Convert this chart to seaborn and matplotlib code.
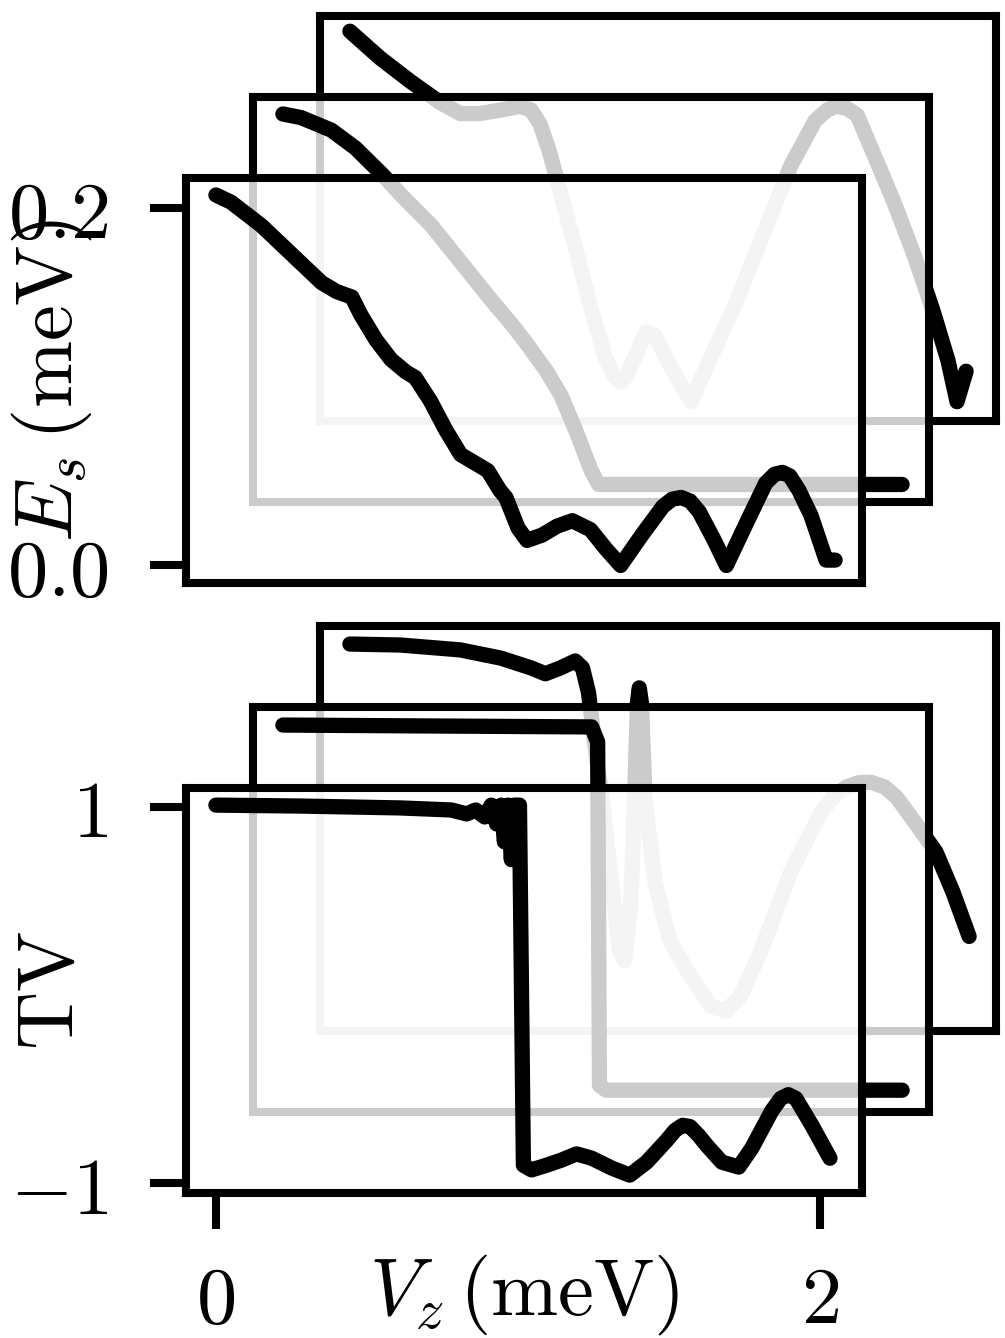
"""
Stacked offset panels: E_s and TV versus V_z for three overlapping cases.
"""

import numpy as np
import pandas as pd
import seaborn as sns
import matplotlib.pyplot as plt


# ---------------------------------------------------------------------
# Data (front / middle / back panels)
# ---------------------------------------------------------------------
ES_FRONT_X = [0.00, 0.05, 0.15, 0.25, 0.35, 0.40, 0.45, 0.48, 0.53, 0.58,
              0.63, 0.66, 0.71, 0.76, 0.81, 0.85, 0.90, 0.94, 0.96, 1.00,
              1.03, 1.08, 1.13, 1.18, 1.24, 1.29, 1.34, 1.41, 1.48, 1.51,
              1.54, 1.57, 1.60, 1.65, 1.69, 1.76, 1.82, 1.85, 1.875, 1.90,
              1.93, 1.97, 2.02, 2.05]
ES_FRONT_Y = [0.207, 0.203, 0.190, 0.174, 0.158, 0.153, 0.150, 0.140, 0.126, 0.115,
              0.108, 0.105, 0.092, 0.076, 0.062, 0.058, 0.053, 0.042, 0.038, 0.021,
              0.014, 0.017, 0.022, 0.025, 0.020, 0.0095, 0.000, 0.017, 0.033, 0.037,
              0.038, 0.036, 0.030, 0.014, 0.000, 0.025, 0.046, 0.051, 0.052, 0.050,
              0.042, 0.028, 0.003, 0.003]

ES_MID_X = [0.00, 0.06, 0.16, 0.24, 0.33, 0.39, 0.49, 0.59, 0.69, 0.76,
            0.81, 0.87, 0.92, 0.97, 1.02, 1.045, 1.50, 2.05]
ES_MID_Y = [0.207, 0.205, 0.198, 0.188, 0.173, 0.162, 0.145, 0.124, 0.103, 0.089,
            0.078, 0.064, 0.050, 0.030, 0.008, 0.000, 0.000, 0.000]

ES_BACK_X = [0.00, 0.10, 0.20, 0.30, 0.365, 0.43, 0.50, 0.564, 0.60, 0.63,
             0.66, 0.70, 0.75, 0.80, 0.845, 0.875, 0.895, 0.915, 0.93, 0.98,
             1.01, 1.06, 1.13, 1.19, 1.28, 1.36, 1.46, 1.54, 1.58, 1.61,
             1.645, 1.68, 1.73, 1.80, 1.87, 1.93, 1.98, 2.01, 2.04]
ES_BACK_Y = [0.208, 0.193, 0.180, 0.168, 0.162, 0.162, 0.164, 0.166, 0.164, 0.156,
             0.141, 0.116, 0.085, 0.052, 0.026, 0.015, 0.012, 0.015, 0.021, 0.040,
             0.038, 0.021, 0.001, 0.024, 0.057, 0.091, 0.133, 0.158, 0.164, 0.166,
             0.165, 0.161, 0.141, 0.113, 0.082, 0.052, 0.024, 0.001, 0.018]

TV_FRONT_X = [0.00, 0.28, 0.61, 0.78, 0.83, 0.86, 0.89, 0.912, 0.929, 0.945,
              0.955, 0.968, 0.978, 0.988, 1.005, 1.018, 1.045, 1.095, 1.144, 1.194,
              1.244, 1.31, 1.37, 1.426, 1.493, 1.52, 1.545, 1.57, 1.60, 1.625,
              1.675, 1.731, 1.774, 1.841, 1.87, 1.895, 1.92, 1.973, 2.033]
TV_FRONT_Y = [1.01, 1.005, 0.995, 0.984, 0.963, 0.984, 0.947, 1.01, 0.91, 1.01,
              0.815, 1.01, 0.72, 1.01, 1.01, -0.905, -0.93, -0.905, -0.878, -0.845,
              -0.868, -0.92, -0.958, -0.889, -0.772, -0.72, -0.693, -0.70, -0.75, -0.80,
              -0.889, -0.915, -0.815, -0.614, -0.55, -0.530, -0.550, -0.693, -0.868]

TV_MID_X = [0.00, 0.50, 1.022, 1.042, 1.048, 1.07, 2.05]
TV_MID_Y = [1.005, 1.0, 0.995, 0.915, -0.91, -0.937, -0.937]

TV_BACK_X = [0.00, 0.166, 0.365, 0.50, 0.60, 0.647, 0.697, 0.746, 0.77, 0.79,
             0.81, 0.836, 0.866, 0.893, 0.91, 0.93, 0.942, 0.952, 0.958, 0.965,
             0.978, 1.01, 1.06, 1.128, 1.194, 1.244, 1.293, 1.36, 1.46, 1.56,
             1.60, 1.642, 1.685, 1.725, 1.77, 1.81, 1.87, 1.94, 1.996, 2.05]
TV_BACK_Y = [1.005, 1.0, 0.974, 0.93, 0.878, 0.847, 0.878, 0.915, 0.878, 0.746,
             0.48, 0.164, -0.259, -0.63, -0.68, -0.365, 0.164, 0.693, 0.772, 0.693,
             0.164, -0.259, -0.577, -0.762, -0.92, -0.947, -0.868, -0.63, -0.206, 0.111,
             0.19, 0.243, 0.268, 0.27, 0.245, 0.19, 0.058, -0.10, -0.312, -0.55]

ES_TICKS = [0.0, 0.2]
ES_TICKLABELS = ["$0.0$", "$0.2$"]
TV_TICKS = [-1, 1]
TV_TICKLABELS = ["$-1$", "$1$"]
VZ_TICKS = [0, 2]
VZ_TICKLABELS = ["$0$", "$2$"]

XLIM = (-0.099, 2.139)
ES_YLIM = (-0.0098, 0.2165)
TV_YLIM = (-1.053, 1.101)


# ---------------------------------------------------------------------
# Style
# ---------------------------------------------------------------------
sns.set_style("white")
plt.rcParams.update({
    "font.family": "serif",
    "font.serif": ["DejaVu Serif"],
    "mathtext.fontset": "cm",
    "font.size": 58,
    "text.color": "black",
    "axes.labelcolor": "black",
})

FS = 58
SPINE_LW = 5.8
CURVE_LW = 11.0

W, H = 1005, 1338
AX_L, AX_W = 186 / W, 676 / W
AX_H = 405 / H
DX, DY = 67 / W, 81 / H
TOP_B = 1 - 583 / H
BOT_B = 1 - 1193 / H


def style_axes(ax, xlim, ylim):
    ax.set_xlim(*xlim)
    ax.set_ylim(*ylim)
    ax.patch.set_facecolor("white")
    ax.patch.set_alpha(0.8)
    for spine in ax.spines.values():
        spine.set_visible(True)
        spine.set_color("black")
        spine.set_linewidth(SPINE_LW)
    ax.tick_params(left=True, bottom=True, length=26, width=SPINE_LW,
                   direction="out", colors="black", labelsize=FS)
    ax.tick_params(axis="y", pad=30)
    ax.tick_params(axis="x", pad=24)


def draw_curve(ax, x, y):
    df = pd.DataFrame({"x": x, "y": y})
    sns.lineplot(data=df, x="x", y="y", ax=ax, color="black",
                 linewidth=CURVE_LW, sort=False, estimator=None,
                 solid_capstyle="round", solid_joinstyle="round")
    ax.set_xlabel("")
    ax.set_ylabel("")


def make_stack(fig, bottom, curves, ylim):
    """curves ordered back, middle, front. Returns the front axes."""
    axes = []
    for k, (x, y) in enumerate(curves):
        shift = 2 - k
        ax = fig.add_axes([AX_L + shift * DX, bottom + shift * DY, AX_W, AX_H])
        draw_curve(ax, x, y)
        style_axes(ax, XLIM, ylim)
        ax.set_xticks([])
        ax.set_yticks([])
        axes.append(ax)
    return axes[-1]


fig = plt.figure(figsize=(W / 100, H / 100), dpi=100)

ax_es = make_stack(
    fig, TOP_B,
    [(ES_BACK_X, ES_BACK_Y), (ES_MID_X, ES_MID_Y), (ES_FRONT_X, ES_FRONT_Y)],
    ES_YLIM,
)
ax_es.set_yticks(ES_TICKS, labels=ES_TICKLABELS)
ax_es.set_ylabel(r"$E_s\,(\mathrm{meV})$", fontsize=FS, va="center", color="black")
ax_es.yaxis.set_label_coords(-0.198, 0.5)

ax_tv = make_stack(
    fig, BOT_B,
    [(TV_BACK_X, TV_BACK_Y), (TV_MID_X, TV_MID_Y), (TV_FRONT_X, TV_FRONT_Y)],
    TV_YLIM,
)
ax_tv.set_yticks(TV_TICKS, labels=TV_TICKLABELS)
ax_tv.set_xticks(VZ_TICKS, labels=VZ_TICKLABELS)
ax_tv.set_ylabel(r"$\mathrm{TV}$", fontsize=FS, va="center", color="black")
ax_tv.yaxis.set_label_coords(-0.198, 0.5)
ax_tv.set_xlabel(r"$V_z\,(\mathrm{meV})$", fontsize=FS, va="center", color="black")
ax_tv.xaxis.set_label_coords(0.5, -0.251)

fig.savefig("out.png", dpi=100, facecolor="white")
